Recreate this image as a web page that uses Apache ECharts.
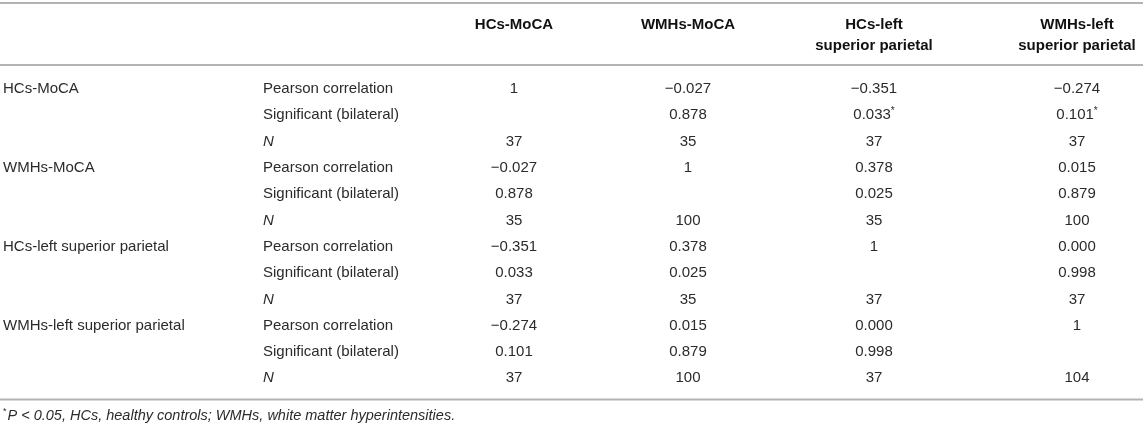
<!DOCTYPE html>
<html lang="en">

<head>
  <meta charset="UTF-8">
  <meta name="viewport" content="width=device-width, initial-scale=1.0">
  <title>Correlation table</title>
  <script src="https://cdn.jsdelivr.net/npm/echarts@6.0.0/dist/echarts.min.js"></script>
  <style>
    html, body { margin: 0; padding: 0; background: #fff; }
    #main { position: absolute; left: 0; right: 0; top: 0; bottom: 0; }
  </style>
</head>

<body>
  <div id="main"></div>
  <script>
    // table content
    var colHeads = ['HCs-MoCA', 'WMHs-MoCA', 'HCs-left\nsuperior parietal', 'WMHs-left\nsuperior parietal']
    var variables = ['HCs-MoCA', 'WMHs-MoCA', 'HCs-left superior parietal', 'WMHs-left superior parietal']
    var statNames = ['Pearson correlation', 'Significant (bilateral)', 'N']
    var pearson = [
      [1, -0.027, -0.351, -0.274],
      [-0.027, 1, 0.378, 0.015],
      [-0.351, 0.378, 1, 0.000],
      [-0.274, 0.015, 0.000, 1]
    ]
    var significance = [
      [null, 0.878, 0.033, 0.101],
      [0.878, null, 0.025, 0.879],
      [0.033, 0.025, null, 0.998],
      [0.101, 0.879, 0.998, null]
    ]
    // cells flagged with * in the source (row, col)
    var starred = [[0, 2], [0, 3]]
    var sampleN = [
      [37, 35, 37, 37],
      [35, 100, 35, 100],
      [37, 35, 37, 37],
      [37, 100, 37, 104]
    ]
    var footnote = 'P < 0.05, HCs, healthy controls; WMHs, white matter hyperintensities.'

    // layout: column anchors along the x axis (px of a 1143 wide page)
    var colX = [3, 263, 514, 688, 874, 1077]
    var rowH = 26.3
    var firstRowY = 89
    var textColor = '#2b2b2b'
    var ruleColor = '#b3b3b3'
    var fontFam = '"Liberation Sans", Arial, Helvetica, sans-serif'

    function fmt(v) {
      if (v === 1) return '1'
      var s = Math.abs(v).toFixed(3)
      return v < 0 ? '\u2212' + s : s
    }
    function isStarred(r, c) {
      return starred.some(function (s) { return s[0] === r && s[1] === c })
    }

    // build the cells: [x, rowIndex, text, align, italic]
    var rowKeys = []
    var cells = []
    variables.forEach(function (name, r) {
      statNames.forEach(function (stat, k) {
        var ri = r * statNames.length + k
        rowKeys.push(String(ri))
        if (k === 0) cells.push([colX[0], ri, name, 'left', false])
        cells.push([colX[1], ri, stat, 'left', stat === 'N'])
        for (var c = 0; c < variables.length; c++) {
          var txt = null
          if (k === 0) txt = fmt(pearson[r][c])
          else if (k === 1 && significance[r][c] !== null) {
            txt = '{n|' + significance[r][c].toFixed(3) + '}' + (isStarred(r, c) ? '{s|*}' : '')
          } else if (k === 2) txt = String(sampleN[r][c])
          if (txt !== null) cells.push([colX[c + 2], ri, txt, 'center', false])
        }
      })
    })

    var myChart = echarts.init(document.getElementById('main'))
    var W = myChart.getWidth()
    var H = myChart.getHeight()
    var gridTop = firstRowY - rowH / 2
    var gridBottom = H - (gridTop + rowH * rowKeys.length)

    var option = {
      animation: false,
      grid: { left: 0, right: 0, top: gridTop, bottom: gridBottom },
      xAxis: { type: 'value', min: 0, max: 1143, show: false },
      yAxis: { type: 'category', data: rowKeys, inverse: true, show: false },
      series: [{
        type: 'custom',
        data: cells,
        silent: true,
        renderItem: function (params, api) {
          var d = cells[params.dataIndex]
          var p = api.coord([api.value(0), api.value(1)])
          return {
            type: 'text',
            x: p[0],
            y: p[1],
            style: {
              text: d[2],
              align: d[3],
              verticalAlign: 'middle',
              fill: textColor,
              fontSize: 15,
              fontStyle: d[4] ? 'italic' : 'normal',
              fontFamily: fontFam,
              rich: {
                n: { fontSize: 15, fontFamily: fontFam, fill: textColor },
                s: { fontSize: 10, fontFamily: fontFam, fill: textColor, verticalAlign: 'top', padding: [0, 0, 8, 0] }
              }
            }
          }
        }
      }]
    }
    myChart.setOption(option)

    // header, rules and footnote
    var graphics = []
    function rule(y) {
      graphics.push({ type: 'line', shape: { x1: 0, y1: y, x2: W, y2: y }, style: { stroke: ruleColor, lineWidth: 2 }, silent: true })
    }
    rule(3)
    rule(65)
    rule(gridTop + rowH * rowKeys.length + 8)
    colHeads.forEach(function (h, i) {
      graphics.push({
        type: 'text',
        x: myChart.convertToPixel({ xAxisIndex: 0 }, colX[i + 2]),
        y: 14,
        style: {
          text: h,
          align: 'center',
          verticalAlign: 'top',
          lineHeight: 21,
          fill: '#111',
          fontSize: 15,
          fontWeight: 'bold',
          fontFamily: fontFam
        },
        silent: true
      })
    })
    graphics.push({
      type: 'text',
      x: colX[0],
      y: 416,
      style: {
        text: '{s|*}{t|' + footnote + '}',
        verticalAlign: 'middle',
        fill: textColor,
        rich: {
          s: { fontSize: 9, fontFamily: fontFam, fill: textColor, verticalAlign: 'top', padding: [0, 1, 8, 0] },
          t: { fontSize: 14.5, fontStyle: 'italic', fontFamily: fontFam, fill: textColor }
        }
      },
      silent: true
    })
    myChart.setOption({ graphic: graphics })
  </script>
</body>

</html>
